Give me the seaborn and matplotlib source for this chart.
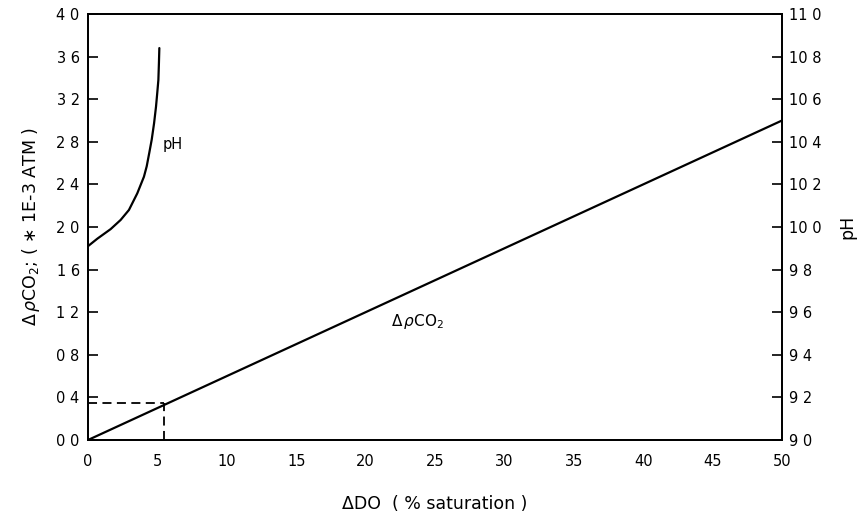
import numpy as np
import pandas as pd
import matplotlib
matplotlib.use("Agg")
import matplotlib.pyplot as plt
import seaborn as sns

# ---- data ----
do_line = [0, 50]
pco2_line = [0.0, 3.0]

do_ph = [0.0, 0.67, 1.63, 2.35, 2.95, 3.55, 4.03, 4.23, 4.42, 4.59, 4.76, 4.90, 4.99, 5.07, 5.11, 5.14]
ph_vals = [9.91, 9.945, 9.99, 10.033, 10.08, 10.158, 10.236, 10.285, 10.35, 10.41, 10.487, 10.565, 10.63, 10.69, 10.77, 10.84]

dash_do = 5.5
dash_pco2 = 0.35

x_ticks = [0, 5, 10, 15, 20, 25, 30, 35, 40, 45, 50]
left_ticks = [0.0, 0.4, 0.8, 1.2, 1.6, 2.0, 2.4, 2.8, 3.2, 3.6, 4.0]
left_labels = ["0 0", "0 4", "0 8", "1 2", "1 6", "2 0", "2 4", "2 8", "3 2", "3 6", "4 0"]
right_ticks = [9.0, 9.2, 9.4, 9.6, 9.8, 10.0, 10.2, 10.4, 10.6, 10.8, 11.0]
right_labels = ["9 0", "9 2", "9 4", "9 6", "9 8", "10 0", "10 2", "10 4", "10 6", "10 8", "11 0"]

sns.set_theme(style="white")
plt.rcParams['font.family'] = ['DejaVu Sans']
plt.rcParams['text.color'] = 'black'
plt.rcParams['axes.labelcolor'] = 'black'

fig = plt.figure(figsize=(8.57, 5.21), dpi=100)
ax = fig.add_axes([88/857, 1-440/521, (782-88)/857, (440-14)/521])
ax2 = ax.twinx()

df_line = pd.DataFrame({"DO": do_line, "pCO2": pco2_line})
df_ph = pd.DataFrame({"DO": do_ph, "pH": ph_vals})

sns.lineplot(data=df_line, x="DO", y="pCO2", ax=ax, color="black", lw=1.6)
sns.lineplot(data=df_ph, x="DO", y="pH", ax=ax2, color="black", lw=1.6)

ax.plot([0, dash_do], [dash_pco2, dash_pco2], ls=(0, (5, 3)), color="black", lw=1.3)
ax.plot([dash_do, dash_do], [0, dash_pco2], ls=(0, (5, 3)), color="black", lw=1.3)

ax.set_xlim(0, 50)
ax.set_ylim(0, 4.0)
ax2.set_ylim(9.0, 11.0)

ax.set_xticks(x_ticks)
ax.set_xticklabels([str(t) for t in x_ticks])
ax.set_yticks(left_ticks)
ax.set_yticklabels(left_labels)
ax2.set_yticks(right_ticks)
ax2.set_yticklabels(right_labels)

for a in (ax, ax2):
    for s in a.spines.values():
        s.set_color("black")
        s.set_linewidth(1.3)
ax.tick_params(axis="both", direction="in", length=7, width=1.2, labelsize=10.5, colors="black", pad=6)
ax.tick_params(axis="x", pad=10)
ax2.tick_params(axis="y", direction="in", length=7, width=1.2, labelsize=10.5, colors="black", pad=5)

ax.set_xlabel("ΔDO  ( % saturation )", fontsize=12.5, labelpad=19)
ax.set_ylabel(r"$\Delta\,\rho$CO$_2$; ( $\ast$ 1E-3 ATM )", fontsize=12.5, labelpad=10)
ax2.set_ylabel("pH", fontsize=12.5, labelpad=12)

ax.text(5.4, 2.77, "pH", fontsize=10.5, va="center", ha="left")
ax.text(21.8, 1.11, r"$\Delta\,\rho$CO$_2$", fontsize=11, va="center", ha="left")

fig.savefig("out.png", dpi=100)
